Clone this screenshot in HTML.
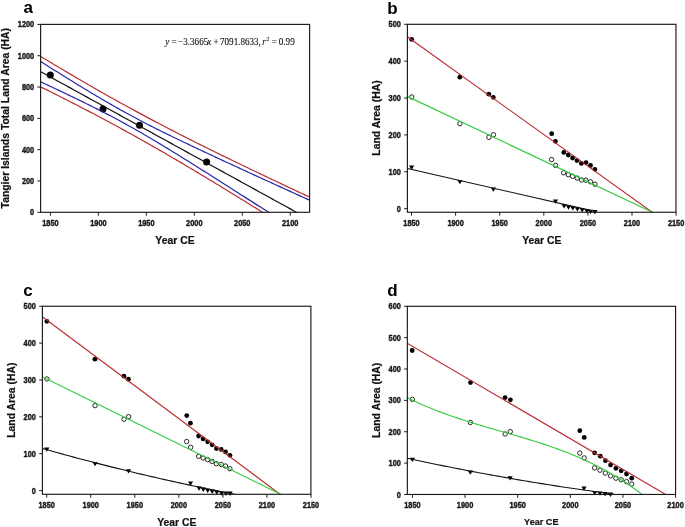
<!DOCTYPE html><html><head><meta charset="utf-8"><style>html,body{margin:0;padding:0;background:#fff;}body{width:685px;height:527px;overflow:hidden;} svg{display:block;will-change:transform;}</style></head><body><svg width="685" height="527" viewBox="0 0 685 527">
<rect width="685" height="527" fill="#fff"/>
<defs><clipPath id="ca"><rect x="40.6" y="24.4" width="269.0" height="187.9"/></clipPath><clipPath id="cb"><rect x="407.4" y="24.3" width="268.55" height="187.95"/></clipPath><clipPath id="cc"><rect x="42.4" y="306.25" width="268.50" height="188.05"/></clipPath><clipPath id="cd"><rect x="407.35" y="306.3" width="268.25" height="188.15"/></clipPath></defs>
<circle cx="50.30" cy="75.10" r="3.5" fill="#000"/>
<circle cx="103.00" cy="108.90" r="3.5" fill="#000"/>
<circle cx="139.50" cy="125.35" r="3.5" fill="#000"/>
<circle cx="206.60" cy="162.10" r="3.5" fill="#000"/>
<g clip-path="url(#ca)">
<polyline points="36.07,53.64 38.40,55.06 40.74,56.48 43.08,57.89 45.41,59.30 47.75,60.70 50.09,62.11 52.42,63.51 54.76,64.91 57.10,66.31 59.44,67.70 61.77,69.09 64.11,70.48 66.45,71.86 68.78,73.24 71.12,74.62 73.46,75.99 75.79,77.36 78.13,78.73 80.47,80.09 82.81,81.45 85.14,82.81 87.48,84.16 89.82,85.51 92.15,86.85 94.49,88.20 96.83,89.53 99.17,90.87 101.50,92.19 103.84,93.52 106.18,94.84 108.51,96.16 110.85,97.47 113.19,98.78 115.53,100.08 117.86,101.38 120.20,102.68 122.54,103.97 124.87,105.26 127.21,106.54 129.55,107.82 131.88,109.09 134.22,110.36 136.56,111.63 138.90,112.89 141.23,114.15 143.57,115.40 145.91,116.65 148.24,117.89 150.58,119.13 152.92,120.37 155.25,121.60 157.59,122.83 159.93,124.05 162.27,125.28 164.60,126.49 166.94,127.71 169.28,128.92 171.61,130.12 173.95,131.32 176.29,132.52 178.63,133.72 180.96,134.91 183.30,136.10 185.64,137.29 187.97,138.47 190.31,139.65 192.65,140.83 194.99,142.00 197.32,143.17 199.66,144.34 202.00,145.50 204.33,146.66 206.67,147.82 209.01,148.98 211.34,150.14 213.68,151.29 216.02,152.44 218.36,153.59 220.69,154.73 223.03,155.88 225.37,157.02 227.70,158.16 230.04,159.29 232.38,160.43 234.71,161.56 237.05,162.69 239.39,163.82 241.73,164.95 244.06,166.08 246.40,167.20 248.74,168.32 251.07,169.44 253.41,170.56 255.75,171.68 258.09,172.80 260.42,173.91 262.76,175.03 265.10,176.14 267.43,177.25 269.77,178.36 272.11,179.47 274.44,180.58 276.78,181.68 279.12,182.79 281.46,183.89 283.79,185.00 286.13,186.10 288.47,187.20 290.80,188.30 293.14,189.40 295.48,190.50 297.82,191.59 300.15,192.69 302.49,193.78 304.83,194.88 307.16,195.97 309.50,197.07 311.84,198.16 314.17,199.25" fill="none" stroke="#ba2c33" stroke-width="1.2" stroke-linejoin="round"/>
<polyline points="36.07,84.62 38.40,85.77 40.74,86.93 43.08,88.09 45.41,89.25 47.75,90.41 50.09,91.57 52.42,92.74 54.76,93.91 57.10,95.08 59.44,96.26 61.77,97.44 64.11,98.62 66.45,99.81 68.78,101.00 71.12,102.19 73.46,103.38 75.79,104.58 78.13,105.78 80.47,106.99 82.81,108.20 85.14,109.41 87.48,110.63 89.82,111.85 92.15,113.07 94.49,114.30 96.83,115.53 99.17,116.77 101.50,118.01 103.84,119.25 106.18,120.50 108.51,121.75 110.85,123.01 113.19,124.27 115.53,125.54 117.86,126.81 120.20,128.08 122.54,129.36 124.87,130.64 127.21,131.93 129.55,133.22 131.88,134.51 134.22,135.81 136.56,137.12 138.90,138.42 141.23,139.73 143.57,141.05 145.91,142.37 148.24,143.70 150.58,145.02 152.92,146.36 155.25,147.69 157.59,149.03 159.93,150.38 162.27,151.73 164.60,153.08 166.94,154.43 169.28,155.79 171.61,157.16 173.95,158.52 176.29,159.89 178.63,161.27 180.96,162.64 183.30,164.02 185.64,165.41 187.97,166.79 190.31,168.18 192.65,169.58 194.99,170.97 197.32,172.37 199.66,173.77 202.00,175.18 204.33,176.58 206.67,177.99 209.01,179.40 211.34,180.82 213.68,182.24 216.02,183.66 218.36,185.08 220.69,186.50 223.03,187.93 225.37,189.35 227.70,190.78 230.04,192.22 232.38,193.65 234.71,195.09 237.05,196.52 239.39,197.96 241.73,199.41 244.06,200.85 246.40,202.29 248.74,203.74 251.07,205.19 253.41,206.64 255.75,208.09 258.09,209.54 260.42,211.00 262.76,212.45 265.10,213.91 267.43,215.37 269.77,216.83 272.11,218.29 274.44,219.75 276.78,221.21 279.12,222.67 281.46,224.14 283.79,225.61 286.13,227.07 288.47,228.54 290.80,230.01 293.14,231.48 295.48,232.95 297.82,234.42 300.15,235.90 302.49,237.37 304.83,238.84 307.16,240.32 309.50,241.80 311.84,243.27 314.17,244.75" fill="none" stroke="#ba2c33" stroke-width="1.2" stroke-linejoin="round"/>
<polyline points="36.07,58.60 38.40,60.08 40.74,61.55 43.08,63.03 45.41,64.51 47.75,65.98 50.09,67.45 52.42,68.92 54.76,70.39 57.10,71.85 59.44,73.32 61.77,74.77 64.11,76.23 66.45,77.68 68.78,79.14 71.12,80.58 73.46,82.03 75.79,83.46 78.13,84.90 80.47,86.33 82.81,87.76 85.14,89.18 87.48,90.59 89.82,92.00 92.15,93.41 94.49,94.81 96.83,96.20 99.17,97.58 101.50,98.96 103.84,100.33 106.18,101.69 108.51,103.05 110.85,104.39 113.19,105.73 115.53,107.06 117.86,108.37 120.20,109.68 122.54,110.98 124.87,112.27 127.21,113.55 129.55,114.82 131.88,116.08 134.22,117.34 136.56,118.58 138.90,119.81 141.23,121.04 143.57,122.25 145.91,123.46 148.24,124.66 150.58,125.85 152.92,127.04 155.25,128.22 157.59,129.39 159.93,130.56 162.27,131.72 164.60,132.87 166.94,134.02 169.28,135.16 171.61,136.30 173.95,137.44 176.29,138.57 178.63,139.69 180.96,140.82 183.30,141.93 185.64,143.05 187.97,144.16 190.31,145.27 192.65,146.38 194.99,147.49 197.32,148.59 199.66,149.69 202.00,150.79 204.33,151.88 206.67,152.98 209.01,154.07 211.34,155.16 213.68,156.25 216.02,157.34 218.36,158.42 220.69,159.51 223.03,160.59 225.37,161.67 227.70,162.75 230.04,163.83 232.38,164.91 234.71,165.99 237.05,167.07 239.39,168.14 241.73,169.22 244.06,170.29 246.40,171.37 248.74,172.44 251.07,173.51 253.41,174.58 255.75,175.65 258.09,176.72 260.42,177.79 262.76,178.86 265.10,179.93 267.43,181.00 269.77,182.07 272.11,183.14 274.44,184.20 276.78,185.27 279.12,186.33 281.46,187.40 283.79,188.46 286.13,189.53 288.47,190.59 290.80,191.66 293.14,192.72 295.48,193.79 297.82,194.85 300.15,195.91 302.49,196.97 304.83,198.04 307.16,199.10 309.50,200.16 311.84,201.22 314.17,202.28" fill="none" stroke="#2626ad" stroke-width="1.2" stroke-linejoin="round"/>
<polyline points="36.07,79.67 38.40,80.76 40.74,81.85 43.08,82.94 45.41,84.04 47.75,85.13 50.09,86.23 52.42,87.33 54.76,88.43 57.10,89.54 59.44,90.64 61.77,91.75 64.11,92.87 66.45,93.98 68.78,95.10 71.12,96.22 73.46,97.35 75.79,98.48 78.13,99.61 80.47,100.75 82.81,101.89 85.14,103.04 87.48,104.20 89.82,105.35 92.15,106.52 94.49,107.69 96.83,108.87 99.17,110.05 101.50,111.24 103.84,112.44 106.18,113.65 108.51,114.87 110.85,116.09 113.19,117.32 115.53,118.56 117.86,119.81 120.20,121.08 122.54,122.34 124.87,123.62 127.21,124.91 129.55,126.21 131.88,127.52 134.22,128.84 136.56,130.16 138.90,131.50 141.23,132.84 143.57,134.20 145.91,135.56 148.24,136.93 150.58,138.30 152.92,139.69 155.25,141.08 157.59,142.47 159.93,143.88 162.27,145.29 164.60,146.70 166.94,148.12 169.28,149.55 171.61,150.98 173.95,152.41 176.29,153.85 178.63,155.29 180.96,156.74 183.30,158.19 185.64,159.64 187.97,161.10 190.31,162.56 192.65,164.02 194.99,165.49 197.32,166.95 199.66,168.42 202.00,169.89 204.33,171.37 206.67,172.84 209.01,174.32 211.34,175.80 213.68,177.28 216.02,178.76 218.36,180.24 220.69,181.73 223.03,183.21 225.37,184.70 227.70,186.19 230.04,187.68 232.38,189.17 234.71,190.66 237.05,192.15 239.39,193.64 241.73,195.14 244.06,196.63 246.40,198.13 248.74,199.62 251.07,201.12 253.41,202.62 255.75,204.12 258.09,205.62 260.42,207.11 262.76,208.61 265.10,210.11 267.43,211.62 269.77,213.12 272.11,214.62 274.44,216.12 276.78,217.62 279.12,219.13 281.46,220.63 283.79,222.14 286.13,223.64 288.47,225.14 290.80,226.65 293.14,228.16 295.48,229.66 297.82,231.17 300.15,232.67 302.49,234.18 304.83,235.69 307.16,237.19 309.50,238.70 311.84,240.21 314.17,241.72" fill="none" stroke="#2626ad" stroke-width="1.2" stroke-linejoin="round"/>
<polyline points="36.07,69.13 38.40,70.42 40.74,71.70 43.08,72.99 45.41,74.27 47.75,75.56 50.09,76.84 52.42,78.13 54.76,79.41 57.10,80.69 59.44,81.98 61.77,83.26 64.11,84.55 66.45,85.83 68.78,87.12 71.12,88.40 73.46,89.69 75.79,90.97 78.13,92.26 80.47,93.54 82.81,94.83 85.14,96.11 87.48,97.39 89.82,98.68 92.15,99.96 94.49,101.25 96.83,102.53 99.17,103.82 101.50,105.10 103.84,106.39 106.18,107.67 108.51,108.96 110.85,110.24 113.19,111.52 115.53,112.81 117.86,114.09 120.20,115.38 122.54,116.66 124.87,117.95 127.21,119.23 129.55,120.52 131.88,121.80 134.22,123.09 136.56,124.37 138.90,125.66 141.23,126.94 143.57,128.22 145.91,129.51 148.24,130.79 150.58,132.08 152.92,133.36 155.25,134.65 157.59,135.93 159.93,137.22 162.27,138.50 164.60,139.79 166.94,141.07 169.28,142.36 171.61,143.64 173.95,144.92 176.29,146.21 178.63,147.49 180.96,148.78 183.30,150.06 185.64,151.35 187.97,152.63 190.31,153.92 192.65,155.20 194.99,156.49 197.32,157.77 199.66,159.05 202.00,160.34 204.33,161.62 206.67,162.91 209.01,164.19 211.34,165.48 213.68,166.76 216.02,168.05 218.36,169.33 220.69,170.62 223.03,171.90 225.37,173.19 227.70,174.47 230.04,175.75 232.38,177.04 234.71,178.32 237.05,179.61 239.39,180.89 241.73,182.18 244.06,183.46 246.40,184.75 248.74,186.03 251.07,187.32 253.41,188.60 255.75,189.89 258.09,191.17 260.42,192.45 262.76,193.74 265.10,195.02 267.43,196.31 269.77,197.59 272.11,198.88 274.44,200.16 276.78,201.45 279.12,202.73 281.46,204.02 283.79,205.30 286.13,206.58 288.47,207.87 290.80,209.15 293.14,210.44 295.48,211.72 297.82,213.01 300.15,214.29 302.49,215.58 304.83,216.86 307.16,218.15 309.50,219.43 311.84,220.72 314.17,222.00" fill="none" stroke="#111" stroke-width="1.2" stroke-linejoin="round"/>
</g>
<rect x="40.60" y="24.40" width="269.00" height="187.90" fill="none" stroke="#1a1a1a" stroke-width="1.15"/>
<line x1="37.40" y1="212.30" x2="40.60" y2="212.30" stroke="#1a1a1a" stroke-width="1"/>
<text transform="translate(34.20,215.37) scale(0.9,1)" text-anchor="end" style="font-family:'Liberation Sans',sans-serif;font-weight:bold;font-size:8.2px" fill="#1a1a1a" stroke="#1a1a1a" stroke-width="0.4">0</text>
<line x1="37.40" y1="180.98" x2="40.60" y2="180.98" stroke="#1a1a1a" stroke-width="1"/>
<text transform="translate(34.20,184.05) scale(0.9,1)" text-anchor="end" style="font-family:'Liberation Sans',sans-serif;font-weight:bold;font-size:8.2px" fill="#1a1a1a" stroke="#1a1a1a" stroke-width="0.4">200</text>
<line x1="37.40" y1="149.67" x2="40.60" y2="149.67" stroke="#1a1a1a" stroke-width="1"/>
<text transform="translate(34.20,152.74) scale(0.9,1)" text-anchor="end" style="font-family:'Liberation Sans',sans-serif;font-weight:bold;font-size:8.2px" fill="#1a1a1a" stroke="#1a1a1a" stroke-width="0.4">400</text>
<line x1="37.40" y1="118.35" x2="40.60" y2="118.35" stroke="#1a1a1a" stroke-width="1"/>
<text transform="translate(34.20,121.42) scale(0.9,1)" text-anchor="end" style="font-family:'Liberation Sans',sans-serif;font-weight:bold;font-size:8.2px" fill="#1a1a1a" stroke="#1a1a1a" stroke-width="0.4">600</text>
<line x1="37.40" y1="87.04" x2="40.60" y2="87.04" stroke="#1a1a1a" stroke-width="1"/>
<text transform="translate(34.20,90.11) scale(0.9,1)" text-anchor="end" style="font-family:'Liberation Sans',sans-serif;font-weight:bold;font-size:8.2px" fill="#1a1a1a" stroke="#1a1a1a" stroke-width="0.4">800</text>
<line x1="37.40" y1="55.72" x2="40.60" y2="55.72" stroke="#1a1a1a" stroke-width="1"/>
<text transform="translate(34.20,58.79) scale(0.9,1)" text-anchor="end" style="font-family:'Liberation Sans',sans-serif;font-weight:bold;font-size:8.2px" fill="#1a1a1a" stroke="#1a1a1a" stroke-width="0.4">1000</text>
<line x1="37.40" y1="24.40" x2="40.60" y2="24.40" stroke="#1a1a1a" stroke-width="1"/>
<text transform="translate(34.20,27.47) scale(0.9,1)" text-anchor="end" style="font-family:'Liberation Sans',sans-serif;font-weight:bold;font-size:8.2px" fill="#1a1a1a" stroke="#1a1a1a" stroke-width="0.4">1200</text>
<line x1="50.45" y1="212.30" x2="50.45" y2="215.70" stroke="#1a1a1a" stroke-width="1"/>
<text transform="translate(50.45,225.60) scale(0.9,1)" text-anchor="middle" style="font-family:'Liberation Sans',sans-serif;font-weight:bold;font-size:8.2px" fill="#1a1a1a" stroke="#1a1a1a" stroke-width="0.4">1850</text>
<line x1="98.40" y1="212.30" x2="98.40" y2="215.70" stroke="#1a1a1a" stroke-width="1"/>
<text transform="translate(98.40,225.60) scale(0.9,1)" text-anchor="middle" style="font-family:'Liberation Sans',sans-serif;font-weight:bold;font-size:8.2px" fill="#1a1a1a" stroke="#1a1a1a" stroke-width="0.4">1900</text>
<line x1="146.35" y1="212.30" x2="146.35" y2="215.70" stroke="#1a1a1a" stroke-width="1"/>
<text transform="translate(146.35,225.60) scale(0.9,1)" text-anchor="middle" style="font-family:'Liberation Sans',sans-serif;font-weight:bold;font-size:8.2px" fill="#1a1a1a" stroke="#1a1a1a" stroke-width="0.4">1950</text>
<line x1="194.30" y1="212.30" x2="194.30" y2="215.70" stroke="#1a1a1a" stroke-width="1"/>
<text transform="translate(194.30,225.60) scale(0.9,1)" text-anchor="middle" style="font-family:'Liberation Sans',sans-serif;font-weight:bold;font-size:8.2px" fill="#1a1a1a" stroke="#1a1a1a" stroke-width="0.4">2000</text>
<line x1="242.25" y1="212.30" x2="242.25" y2="215.70" stroke="#1a1a1a" stroke-width="1"/>
<text transform="translate(242.25,225.60) scale(0.9,1)" text-anchor="middle" style="font-family:'Liberation Sans',sans-serif;font-weight:bold;font-size:8.2px" fill="#1a1a1a" stroke="#1a1a1a" stroke-width="0.4">2050</text>
<line x1="290.20" y1="212.30" x2="290.20" y2="215.70" stroke="#1a1a1a" stroke-width="1"/>
<text transform="translate(290.20,225.60) scale(0.9,1)" text-anchor="middle" style="font-family:'Liberation Sans',sans-serif;font-weight:bold;font-size:8.2px" fill="#1a1a1a" stroke="#1a1a1a" stroke-width="0.4">2100</text>
<text transform="translate(8.90,118.20) rotate(-90)" x="0" y="0" text-anchor="middle" style="font-family:'Liberation Sans',sans-serif;font-weight:bold;font-size:10.4px" fill="#111" stroke="#111" stroke-width="0.2">Tangier Islands Total Land Area (HA)</text>
<text x="175.00" y="243.50" text-anchor="middle" style="font-family:'Liberation Sans',sans-serif;font-weight:bold;font-size:10.4px" fill="#111" stroke="#111" stroke-width="0.2">Year CE</text>
<text x="23.60" y="13.00" style="font-family:'Liberation Sans',sans-serif;font-weight:bold;font-size:17.0px" fill="#000">a</text>
<text transform="translate(165.2,45.4) scale(0.91,1)" style="font-family:'Liberation Serif',serif;font-style:italic;font-size:10.0px" fill="#111" stroke="#111" stroke-width="0.12">y</text>
<text transform="translate(171.6,45.4) scale(0.91,1)" style="font-family:'Liberation Serif',serif;font-size:10.0px" fill="#111" stroke="#111" stroke-width="0.12">=</text>
<text transform="translate(178.1,45.4) scale(0.91,1)" style="font-family:'Liberation Serif',serif;font-size:10.0px" fill="#111" stroke="#111" stroke-width="0.12">−3.3665</text>
<text transform="translate(207.2,45.4) scale(0.91,1)" style="font-family:'Liberation Serif',serif;font-style:italic;font-size:10.0px" fill="#111" stroke="#111" stroke-width="0.12">x</text>
<text transform="translate(213.4,45.4) scale(0.91,1)" style="font-family:'Liberation Serif',serif;font-size:10.0px" fill="#111" stroke="#111" stroke-width="0.12">+</text>
<text transform="translate(220.0,45.4) scale(0.91,1)" style="font-family:'Liberation Serif',serif;font-size:10.0px" fill="#111" stroke="#111" stroke-width="0.12">7091.8633,</text>
<text transform="translate(262.2,45.4) scale(0.91,1)" style="font-family:'Liberation Serif',serif;font-style:italic;font-size:10.0px" fill="#111" stroke="#111" stroke-width="0.12">r</text>
<text transform="translate(266.6,41.4) scale(0.91,1)" style="font-family:'Liberation Serif',serif;font-size:6.4px" fill="#111" stroke="#111" stroke-width="0.12">2</text>
<text transform="translate(271.7,45.4) scale(0.91,1)" style="font-family:'Liberation Serif',serif;font-size:10.0px" fill="#111" stroke="#111" stroke-width="0.12">=</text>
<text transform="translate(278.8,45.4) scale(0.91,1)" style="font-family:'Liberation Serif',serif;font-size:10.0px" fill="#111" stroke="#111" stroke-width="0.12">0.99</text>
<circle cx="411.70" cy="39.40" r="2.4" fill="#000"/>
<circle cx="459.80" cy="77.20" r="2.4" fill="#000"/>
<circle cx="488.80" cy="94.20" r="2.4" fill="#000"/>
<circle cx="493.30" cy="97.30" r="2.4" fill="#000"/>
<circle cx="551.70" cy="133.70" r="2.4" fill="#000"/>
<circle cx="555.40" cy="141.30" r="2.4" fill="#000"/>
<circle cx="563.80" cy="152.40" r="2.4" fill="#000"/>
<circle cx="568.30" cy="155.00" r="2.4" fill="#000"/>
<circle cx="572.60" cy="158.00" r="2.4" fill="#000"/>
<circle cx="577.00" cy="160.60" r="2.4" fill="#000"/>
<circle cx="581.40" cy="163.40" r="2.4" fill="#000"/>
<circle cx="586.00" cy="162.60" r="2.4" fill="#000"/>
<circle cx="590.50" cy="165.50" r="2.4" fill="#000"/>
<circle cx="594.90" cy="169.30" r="2.4" fill="#000"/>
<circle cx="411.70" cy="97.00" r="2.2" fill="none" stroke="#111" stroke-width="0.9"/>
<circle cx="459.90" cy="123.70" r="2.2" fill="none" stroke="#111" stroke-width="0.9"/>
<circle cx="488.90" cy="137.30" r="2.2" fill="none" stroke="#111" stroke-width="0.9"/>
<circle cx="493.50" cy="134.70" r="2.2" fill="none" stroke="#111" stroke-width="0.9"/>
<circle cx="551.60" cy="159.60" r="2.2" fill="none" stroke="#111" stroke-width="0.9"/>
<circle cx="555.60" cy="165.40" r="2.2" fill="none" stroke="#111" stroke-width="0.9"/>
<circle cx="563.60" cy="172.80" r="2.2" fill="none" stroke="#111" stroke-width="0.9"/>
<circle cx="568.30" cy="174.70" r="2.2" fill="none" stroke="#111" stroke-width="0.9"/>
<circle cx="572.60" cy="176.30" r="2.2" fill="none" stroke="#111" stroke-width="0.9"/>
<circle cx="577.20" cy="178.10" r="2.2" fill="none" stroke="#111" stroke-width="0.9"/>
<circle cx="581.60" cy="180.00" r="2.2" fill="none" stroke="#111" stroke-width="0.9"/>
<circle cx="585.90" cy="180.20" r="2.2" fill="none" stroke="#111" stroke-width="0.9"/>
<circle cx="590.50" cy="181.80" r="2.2" fill="none" stroke="#111" stroke-width="0.9"/>
<circle cx="595.00" cy="184.20" r="2.2" fill="none" stroke="#111" stroke-width="0.9"/>
<path d="M409.00,165.60 L414.20,165.60 L411.60,169.90 Z" fill="#000"/>
<path d="M457.30,180.00 L462.50,180.00 L459.90,184.30 Z" fill="#000"/>
<path d="M490.80,187.40 L496.00,187.40 L493.40,191.70 Z" fill="#000"/>
<path d="M552.90,199.50 L558.10,199.50 L555.50,203.80 Z" fill="#000"/>
<path d="M561.50,204.30 L566.70,204.30 L564.10,208.60 Z" fill="#000"/>
<path d="M565.90,205.40 L571.10,205.40 L568.50,209.70 Z" fill="#000"/>
<path d="M570.20,206.30 L575.40,206.30 L572.80,210.60 Z" fill="#000"/>
<path d="M574.80,207.20 L580.00,207.20 L577.40,211.50 Z" fill="#000"/>
<path d="M579.60,208.10 L584.80,208.10 L582.20,212.40 Z" fill="#000"/>
<path d="M584.30,208.90 L589.50,208.90 L586.90,213.20 Z" fill="#000"/>
<path d="M587.90,209.70 L593.10,209.70 L590.50,214.00 Z" fill="#000"/>
<path d="M592.30,210.10 L597.50,210.10 L594.90,214.40 Z" fill="#000"/>
<g clip-path="url(#cb)">
<polyline points="405.50,35.47 655.02,214.25" fill="none" stroke="#ba2c33" stroke-width="1.15" stroke-linejoin="round"/>
<polyline points="405.50,95.55 656.58,214.25" fill="none" stroke="#38cc40" stroke-width="1.15" stroke-linejoin="round"/>
<polyline points="407.50,168.50 597.00,211.90" fill="none" stroke="#111" stroke-width="1.1" stroke-linejoin="round"/>
</g>
<rect x="407.40" y="24.30" width="268.55" height="187.95" fill="none" stroke="#1a1a1a" stroke-width="1.15"/>
<line x1="404.20" y1="208.65" x2="407.40" y2="208.65" stroke="#1a1a1a" stroke-width="1"/>
<text transform="translate(400.90,211.72) scale(0.9,1)" text-anchor="end" style="font-family:'Liberation Sans',sans-serif;font-weight:bold;font-size:8.2px" fill="#1a1a1a" stroke="#1a1a1a" stroke-width="0.4">0</text>
<line x1="404.20" y1="171.78" x2="407.40" y2="171.78" stroke="#1a1a1a" stroke-width="1"/>
<text transform="translate(400.90,174.85) scale(0.9,1)" text-anchor="end" style="font-family:'Liberation Sans',sans-serif;font-weight:bold;font-size:8.2px" fill="#1a1a1a" stroke="#1a1a1a" stroke-width="0.4">100</text>
<line x1="404.20" y1="134.91" x2="407.40" y2="134.91" stroke="#1a1a1a" stroke-width="1"/>
<text transform="translate(400.90,137.98) scale(0.9,1)" text-anchor="end" style="font-family:'Liberation Sans',sans-serif;font-weight:bold;font-size:8.2px" fill="#1a1a1a" stroke="#1a1a1a" stroke-width="0.4">200</text>
<line x1="404.20" y1="98.04" x2="407.40" y2="98.04" stroke="#1a1a1a" stroke-width="1"/>
<text transform="translate(400.90,101.11) scale(0.9,1)" text-anchor="end" style="font-family:'Liberation Sans',sans-serif;font-weight:bold;font-size:8.2px" fill="#1a1a1a" stroke="#1a1a1a" stroke-width="0.4">300</text>
<line x1="404.20" y1="61.17" x2="407.40" y2="61.17" stroke="#1a1a1a" stroke-width="1"/>
<text transform="translate(400.90,64.24) scale(0.9,1)" text-anchor="end" style="font-family:'Liberation Sans',sans-serif;font-weight:bold;font-size:8.2px" fill="#1a1a1a" stroke="#1a1a1a" stroke-width="0.4">400</text>
<line x1="404.20" y1="24.30" x2="407.40" y2="24.30" stroke="#1a1a1a" stroke-width="1"/>
<text transform="translate(400.90,27.37) scale(0.9,1)" text-anchor="end" style="font-family:'Liberation Sans',sans-serif;font-weight:bold;font-size:8.2px" fill="#1a1a1a" stroke="#1a1a1a" stroke-width="0.4">500</text>
<line x1="411.50" y1="212.25" x2="411.50" y2="215.65" stroke="#1a1a1a" stroke-width="1"/>
<text transform="translate(411.50,225.60) scale(0.9,1)" text-anchor="middle" style="font-family:'Liberation Sans',sans-serif;font-weight:bold;font-size:8.2px" fill="#1a1a1a" stroke="#1a1a1a" stroke-width="0.4">1850</text>
<line x1="455.60" y1="212.25" x2="455.60" y2="215.65" stroke="#1a1a1a" stroke-width="1"/>
<text transform="translate(455.60,225.60) scale(0.9,1)" text-anchor="middle" style="font-family:'Liberation Sans',sans-serif;font-weight:bold;font-size:8.2px" fill="#1a1a1a" stroke="#1a1a1a" stroke-width="0.4">1900</text>
<line x1="499.70" y1="212.25" x2="499.70" y2="215.65" stroke="#1a1a1a" stroke-width="1"/>
<text transform="translate(499.70,225.60) scale(0.9,1)" text-anchor="middle" style="font-family:'Liberation Sans',sans-serif;font-weight:bold;font-size:8.2px" fill="#1a1a1a" stroke="#1a1a1a" stroke-width="0.4">1950</text>
<line x1="543.80" y1="212.25" x2="543.80" y2="215.65" stroke="#1a1a1a" stroke-width="1"/>
<text transform="translate(543.80,225.60) scale(0.9,1)" text-anchor="middle" style="font-family:'Liberation Sans',sans-serif;font-weight:bold;font-size:8.2px" fill="#1a1a1a" stroke="#1a1a1a" stroke-width="0.4">2000</text>
<line x1="587.90" y1="212.25" x2="587.90" y2="215.65" stroke="#1a1a1a" stroke-width="1"/>
<text transform="translate(587.90,225.60) scale(0.9,1)" text-anchor="middle" style="font-family:'Liberation Sans',sans-serif;font-weight:bold;font-size:8.2px" fill="#1a1a1a" stroke="#1a1a1a" stroke-width="0.4">2050</text>
<line x1="632.00" y1="212.25" x2="632.00" y2="215.65" stroke="#1a1a1a" stroke-width="1"/>
<text transform="translate(632.00,225.60) scale(0.9,1)" text-anchor="middle" style="font-family:'Liberation Sans',sans-serif;font-weight:bold;font-size:8.2px" fill="#1a1a1a" stroke="#1a1a1a" stroke-width="0.4">2100</text>
<line x1="676.10" y1="212.25" x2="676.10" y2="215.65" stroke="#1a1a1a" stroke-width="1"/>
<text transform="translate(676.10,225.60) scale(0.9,1)" text-anchor="middle" style="font-family:'Liberation Sans',sans-serif;font-weight:bold;font-size:8.2px" fill="#1a1a1a" stroke="#1a1a1a" stroke-width="0.4">2150</text>
<text transform="translate(379.90,118.00) rotate(-90)" x="0" y="0" text-anchor="middle" style="font-family:'Liberation Sans',sans-serif;font-weight:bold;font-size:10.4px" fill="#111" stroke="#111" stroke-width="0.2">Land Area (HA)</text>
<text x="541.80" y="243.50" text-anchor="middle" style="font-family:'Liberation Sans',sans-serif;font-weight:bold;font-size:10.4px" fill="#111" stroke="#111" stroke-width="0.2">Year CE</text>
<text x="387.30" y="13.90" style="font-family:'Liberation Sans',sans-serif;font-weight:bold;font-size:17.0px" fill="#000">b</text>
<circle cx="46.90" cy="321.35" r="2.4" fill="#000"/>
<circle cx="94.95" cy="359.14" r="2.4" fill="#000"/>
<circle cx="123.91" cy="376.13" r="2.4" fill="#000"/>
<circle cx="128.41" cy="379.23" r="2.4" fill="#000"/>
<circle cx="186.74" cy="415.62" r="2.4" fill="#000"/>
<circle cx="190.44" cy="423.22" r="2.4" fill="#000"/>
<circle cx="198.60" cy="436.00" r="2.4" fill="#000"/>
<circle cx="203.10" cy="438.90" r="2.4" fill="#000"/>
<circle cx="207.60" cy="441.80" r="2.4" fill="#000"/>
<circle cx="212.10" cy="444.80" r="2.4" fill="#000"/>
<circle cx="216.40" cy="448.50" r="2.4" fill="#000"/>
<circle cx="221.20" cy="449.40" r="2.4" fill="#000"/>
<circle cx="225.50" cy="451.90" r="2.4" fill="#000"/>
<circle cx="229.90" cy="455.30" r="2.4" fill="#000"/>
<circle cx="46.90" cy="378.93" r="2.2" fill="none" stroke="#111" stroke-width="0.9"/>
<circle cx="95.05" cy="405.62" r="2.2" fill="none" stroke="#111" stroke-width="0.9"/>
<circle cx="124.01" cy="419.22" r="2.2" fill="none" stroke="#111" stroke-width="0.9"/>
<circle cx="128.61" cy="416.62" r="2.2" fill="none" stroke="#111" stroke-width="0.9"/>
<circle cx="186.64" cy="441.51" r="2.2" fill="none" stroke="#111" stroke-width="0.9"/>
<circle cx="190.64" cy="447.31" r="2.2" fill="none" stroke="#111" stroke-width="0.9"/>
<circle cx="198.60" cy="456.30" r="2.2" fill="none" stroke="#111" stroke-width="0.9"/>
<circle cx="203.10" cy="458.00" r="2.2" fill="none" stroke="#111" stroke-width="0.9"/>
<circle cx="207.60" cy="459.60" r="2.2" fill="none" stroke="#111" stroke-width="0.9"/>
<circle cx="212.10" cy="461.40" r="2.2" fill="none" stroke="#111" stroke-width="0.9"/>
<circle cx="216.40" cy="463.70" r="2.2" fill="none" stroke="#111" stroke-width="0.9"/>
<circle cx="221.20" cy="464.50" r="2.2" fill="none" stroke="#111" stroke-width="0.9"/>
<circle cx="225.50" cy="466.00" r="2.2" fill="none" stroke="#111" stroke-width="0.9"/>
<circle cx="229.90" cy="468.70" r="2.2" fill="none" stroke="#111" stroke-width="0.9"/>
<path d="M44.20,447.51 L49.40,447.51 L46.80,451.81 Z" fill="#000"/>
<path d="M92.45,461.91 L97.65,461.91 L95.05,466.21 Z" fill="#000"/>
<path d="M125.91,469.31 L131.11,469.31 L128.51,473.61 Z" fill="#000"/>
<path d="M187.94,481.40 L193.14,481.40 L190.54,485.70 Z" fill="#000"/>
<path d="M196.50,486.50 L201.70,486.50 L199.10,490.80 Z" fill="#000"/>
<path d="M200.70,487.60 L205.90,487.60 L203.30,491.90 Z" fill="#000"/>
<path d="M205.10,488.80 L210.30,488.80 L207.70,493.10 Z" fill="#000"/>
<path d="M209.60,489.60 L214.80,489.60 L212.20,493.90 Z" fill="#000"/>
<path d="M214.20,490.50 L219.40,490.50 L216.80,494.80 Z" fill="#000"/>
<path d="M219.00,491.40 L224.20,491.40 L221.60,495.70 Z" fill="#000"/>
<path d="M223.30,491.60 L228.50,491.60 L225.90,495.90 Z" fill="#000"/>
<path d="M227.50,491.60 L232.70,491.60 L230.10,495.90 Z" fill="#000"/>
<g clip-path="url(#cc)">
<polyline points="40.60,315.51 282.75,496.30" fill="none" stroke="#ba2c33" stroke-width="1.15" stroke-linejoin="round"/>
<polyline points="40.60,375.91 284.76,496.30" fill="none" stroke="#38cc40" stroke-width="1.15" stroke-linejoin="round"/>
<polyline points="42.00,448.36 45.96,449.48 49.92,450.59 53.88,451.69 57.84,452.79 61.80,453.88 65.76,454.96 69.71,456.03 73.67,457.10 77.63,458.16 81.59,459.21 85.55,460.26 89.51,461.30 93.47,462.33 97.43,463.35 101.39,464.37 105.35,465.37 109.31,466.38 113.27,467.37 117.22,468.36 121.18,469.34 125.14,470.31 129.10,471.27 133.06,472.23 137.02,473.18 140.98,474.12 144.94,475.06 148.90,475.99 152.86,476.91 156.82,477.82 160.78,478.73 164.73,479.63 168.69,480.52 172.65,481.40 176.61,482.28 180.57,483.15 184.53,484.01 188.49,484.87 192.45,485.72 196.41,486.56 200.37,487.39 204.33,488.22 208.29,489.04 212.24,489.85 216.20,490.65 220.16,491.45 224.12,492.24 228.08,493.02 232.04,493.80 236.00,494.56" fill="none" stroke="#111" stroke-width="1.1" stroke-linejoin="round"/>
</g>
<rect x="42.40" y="306.25" width="268.50" height="188.05" fill="none" stroke="#1a1a1a" stroke-width="1.15"/>
<line x1="39.20" y1="490.55" x2="42.40" y2="490.55" stroke="#1a1a1a" stroke-width="1"/>
<text transform="translate(35.90,493.62) scale(0.9,1)" text-anchor="end" style="font-family:'Liberation Sans',sans-serif;font-weight:bold;font-size:8.2px" fill="#1a1a1a" stroke="#1a1a1a" stroke-width="0.4">0</text>
<line x1="39.20" y1="453.69" x2="42.40" y2="453.69" stroke="#1a1a1a" stroke-width="1"/>
<text transform="translate(35.90,456.76) scale(0.9,1)" text-anchor="end" style="font-family:'Liberation Sans',sans-serif;font-weight:bold;font-size:8.2px" fill="#1a1a1a" stroke="#1a1a1a" stroke-width="0.4">100</text>
<line x1="39.20" y1="416.83" x2="42.40" y2="416.83" stroke="#1a1a1a" stroke-width="1"/>
<text transform="translate(35.90,419.90) scale(0.9,1)" text-anchor="end" style="font-family:'Liberation Sans',sans-serif;font-weight:bold;font-size:8.2px" fill="#1a1a1a" stroke="#1a1a1a" stroke-width="0.4">200</text>
<line x1="39.20" y1="379.97" x2="42.40" y2="379.97" stroke="#1a1a1a" stroke-width="1"/>
<text transform="translate(35.90,383.04) scale(0.9,1)" text-anchor="end" style="font-family:'Liberation Sans',sans-serif;font-weight:bold;font-size:8.2px" fill="#1a1a1a" stroke="#1a1a1a" stroke-width="0.4">300</text>
<line x1="39.20" y1="343.11" x2="42.40" y2="343.11" stroke="#1a1a1a" stroke-width="1"/>
<text transform="translate(35.90,346.18) scale(0.9,1)" text-anchor="end" style="font-family:'Liberation Sans',sans-serif;font-weight:bold;font-size:8.2px" fill="#1a1a1a" stroke="#1a1a1a" stroke-width="0.4">400</text>
<line x1="39.20" y1="306.25" x2="42.40" y2="306.25" stroke="#1a1a1a" stroke-width="1"/>
<text transform="translate(35.90,309.32) scale(0.9,1)" text-anchor="end" style="font-family:'Liberation Sans',sans-serif;font-weight:bold;font-size:8.2px" fill="#1a1a1a" stroke="#1a1a1a" stroke-width="0.4">500</text>
<line x1="46.70" y1="494.30" x2="46.70" y2="497.70" stroke="#1a1a1a" stroke-width="1"/>
<text transform="translate(46.70,507.60) scale(0.9,1)" text-anchor="middle" style="font-family:'Liberation Sans',sans-serif;font-weight:bold;font-size:8.2px" fill="#1a1a1a" stroke="#1a1a1a" stroke-width="0.4">1850</text>
<line x1="90.75" y1="494.30" x2="90.75" y2="497.70" stroke="#1a1a1a" stroke-width="1"/>
<text transform="translate(90.75,507.60) scale(0.9,1)" text-anchor="middle" style="font-family:'Liberation Sans',sans-serif;font-weight:bold;font-size:8.2px" fill="#1a1a1a" stroke="#1a1a1a" stroke-width="0.4">1900</text>
<line x1="134.80" y1="494.30" x2="134.80" y2="497.70" stroke="#1a1a1a" stroke-width="1"/>
<text transform="translate(134.80,507.60) scale(0.9,1)" text-anchor="middle" style="font-family:'Liberation Sans',sans-serif;font-weight:bold;font-size:8.2px" fill="#1a1a1a" stroke="#1a1a1a" stroke-width="0.4">1950</text>
<line x1="178.85" y1="494.30" x2="178.85" y2="497.70" stroke="#1a1a1a" stroke-width="1"/>
<text transform="translate(178.85,507.60) scale(0.9,1)" text-anchor="middle" style="font-family:'Liberation Sans',sans-serif;font-weight:bold;font-size:8.2px" fill="#1a1a1a" stroke="#1a1a1a" stroke-width="0.4">2000</text>
<line x1="222.90" y1="494.30" x2="222.90" y2="497.70" stroke="#1a1a1a" stroke-width="1"/>
<text transform="translate(222.90,507.60) scale(0.9,1)" text-anchor="middle" style="font-family:'Liberation Sans',sans-serif;font-weight:bold;font-size:8.2px" fill="#1a1a1a" stroke="#1a1a1a" stroke-width="0.4">2050</text>
<line x1="266.95" y1="494.30" x2="266.95" y2="497.70" stroke="#1a1a1a" stroke-width="1"/>
<text transform="translate(266.95,507.60) scale(0.9,1)" text-anchor="middle" style="font-family:'Liberation Sans',sans-serif;font-weight:bold;font-size:8.2px" fill="#1a1a1a" stroke="#1a1a1a" stroke-width="0.4">2100</text>
<line x1="311.00" y1="494.30" x2="311.00" y2="497.70" stroke="#1a1a1a" stroke-width="1"/>
<text transform="translate(311.00,507.60) scale(0.9,1)" text-anchor="middle" style="font-family:'Liberation Sans',sans-serif;font-weight:bold;font-size:8.2px" fill="#1a1a1a" stroke="#1a1a1a" stroke-width="0.4">2150</text>
<text transform="translate(15.10,400.20) rotate(-90)" x="0" y="0" text-anchor="middle" style="font-family:'Liberation Sans',sans-serif;font-weight:bold;font-size:10.4px" fill="#111" stroke="#111" stroke-width="0.2">Land Area (HA)</text>
<text x="176.80" y="525.80" text-anchor="middle" style="font-family:'Liberation Sans',sans-serif;font-weight:bold;font-size:10.4px" fill="#111" stroke="#111" stroke-width="0.2">Year CE</text>
<text x="23.20" y="295.70" style="font-family:'Liberation Sans',sans-serif;font-weight:bold;font-size:17.0px" fill="#000">c</text>
<circle cx="412.20" cy="350.50" r="2.4" fill="#000"/>
<circle cx="470.50" cy="382.60" r="2.4" fill="#000"/>
<circle cx="505.10" cy="397.60" r="2.4" fill="#000"/>
<circle cx="510.40" cy="399.80" r="2.4" fill="#000"/>
<circle cx="579.80" cy="430.70" r="2.4" fill="#000"/>
<circle cx="584.20" cy="437.40" r="2.4" fill="#000"/>
<circle cx="594.60" cy="452.80" r="2.4" fill="#000"/>
<circle cx="600.30" cy="456.20" r="2.4" fill="#000"/>
<circle cx="605.50" cy="460.70" r="2.4" fill="#000"/>
<circle cx="610.60" cy="464.90" r="2.4" fill="#000"/>
<circle cx="615.90" cy="468.30" r="2.4" fill="#000"/>
<circle cx="621.20" cy="470.80" r="2.4" fill="#000"/>
<circle cx="626.50" cy="474.00" r="2.4" fill="#000"/>
<circle cx="631.70" cy="478.20" r="2.4" fill="#000"/>
<circle cx="412.40" cy="399.30" r="2.2" fill="none" stroke="#111" stroke-width="0.9"/>
<circle cx="470.40" cy="422.50" r="2.2" fill="none" stroke="#111" stroke-width="0.9"/>
<circle cx="505.10" cy="434.00" r="2.2" fill="none" stroke="#111" stroke-width="0.9"/>
<circle cx="510.30" cy="431.60" r="2.2" fill="none" stroke="#111" stroke-width="0.9"/>
<circle cx="579.80" cy="453.10" r="2.2" fill="none" stroke="#111" stroke-width="0.9"/>
<circle cx="584.20" cy="457.90" r="2.2" fill="none" stroke="#111" stroke-width="0.9"/>
<circle cx="594.60" cy="467.90" r="2.2" fill="none" stroke="#111" stroke-width="0.9"/>
<circle cx="600.00" cy="470.20" r="2.2" fill="none" stroke="#111" stroke-width="0.9"/>
<circle cx="605.30" cy="473.10" r="2.2" fill="none" stroke="#111" stroke-width="0.9"/>
<circle cx="610.60" cy="475.90" r="2.2" fill="none" stroke="#111" stroke-width="0.9"/>
<circle cx="615.90" cy="478.20" r="2.2" fill="none" stroke="#111" stroke-width="0.9"/>
<circle cx="621.20" cy="479.70" r="2.2" fill="none" stroke="#111" stroke-width="0.9"/>
<circle cx="626.50" cy="481.60" r="2.2" fill="none" stroke="#111" stroke-width="0.9"/>
<circle cx="631.70" cy="484.10" r="2.2" fill="none" stroke="#111" stroke-width="0.9"/>
<path d="M409.80,457.70 L415.00,457.70 L412.40,462.00 Z" fill="#000"/>
<path d="M467.70,470.50 L472.90,470.50 L470.30,474.80 Z" fill="#000"/>
<path d="M507.50,476.30 L512.70,476.30 L510.10,480.60 Z" fill="#000"/>
<path d="M581.40,486.60 L586.60,486.60 L584.00,490.90 Z" fill="#000"/>
<path d="M592.10,490.90 L597.30,490.90 L594.70,495.20 Z" fill="#000"/>
<path d="M597.40,491.50 L602.60,491.50 L600.00,495.80 Z" fill="#000"/>
<path d="M602.50,492.10 L607.70,492.10 L605.10,496.40 Z" fill="#000"/>
<path d="M607.90,492.60 L613.10,492.60 L610.50,496.90 Z" fill="#000"/>
<g clip-path="url(#cd)">
<polyline points="405.50,342.33 669.05,496.45" fill="none" stroke="#ba2c33" stroke-width="1.15" stroke-linejoin="round"/>
<polyline points="406.00,397.00 409.03,398.52 412.05,399.99 415.08,401.42 418.10,402.82 421.13,404.18 424.15,405.50 427.18,406.79 430.20,408.05 433.23,409.27 436.25,410.46 439.28,411.63 442.30,412.77 445.33,413.88 448.35,414.96 451.38,416.03 454.41,417.07 457.43,418.09 460.46,419.09 463.48,420.07 466.51,421.04 469.53,421.99 472.56,422.93 475.58,423.85 478.61,424.76 481.63,425.66 484.66,426.56 487.68,427.44 490.71,428.33 493.73,429.20 496.76,430.07 499.78,430.94 502.81,431.81 505.84,432.68 508.86,433.56 511.89,434.43 514.91,435.31 517.94,436.20 520.96,437.09 523.99,438.00 527.01,438.91 530.04,439.83 533.06,440.77 536.09,441.72 539.11,442.69 542.14,443.67 545.16,444.67 548.19,445.69 551.22,446.74 554.24,447.80 557.27,448.89 560.29,450.00 563.32,451.14 566.34,452.31 569.37,453.50 572.39,454.73 575.42,455.98 578.44,457.28 581.47,458.60 584.49,459.96 587.52,461.36 590.54,462.79 593.57,464.27 596.59,465.78 599.62,467.34 602.65,468.94 605.67,470.59 608.70,472.28 611.72,474.02 614.75,475.82 617.77,477.66 620.80,479.55 623.82,481.49 626.85,483.49 629.87,485.55 632.90,487.66 635.92,489.83 638.95,492.06 641.97,494.36 645.00,496.71" fill="none" stroke="#38cc40" stroke-width="1.15" stroke-linejoin="round"/>
<polyline points="406.00,458.03 409.53,458.79 413.05,459.55 416.58,460.30 420.10,461.04 423.63,461.78 427.15,462.52 430.68,463.25 434.20,463.97 437.73,464.69 441.25,465.40 444.78,466.11 448.31,466.82 451.83,467.52 455.36,468.21 458.88,468.90 462.41,469.58 465.93,470.26 469.46,470.94 472.98,471.60 476.51,472.27 480.03,472.93 483.56,473.58 487.08,474.23 490.61,474.87 494.14,475.51 497.66,476.14 501.19,476.77 504.71,477.39 508.24,478.01 511.76,478.63 515.29,479.23 518.81,479.84 522.34,480.43 525.86,481.03 529.39,481.61 532.92,482.20 536.44,482.77 539.97,483.35 543.49,483.91 547.02,484.48 550.54,485.03 554.07,485.59 557.59,486.13 561.12,486.68 564.64,487.21 568.17,487.74 571.69,488.27 575.22,488.79 578.75,489.31 582.27,489.82 585.80,490.33 589.32,490.83 592.85,491.33 596.37,491.82 599.90,492.30 603.42,492.78 606.95,493.26 610.47,493.73 614.00,494.20" fill="none" stroke="#111" stroke-width="1.1" stroke-linejoin="round"/>
</g>
<rect x="407.35" y="306.30" width="268.25" height="188.15" fill="none" stroke="#1a1a1a" stroke-width="1.15"/>
<line x1="404.15" y1="494.45" x2="407.35" y2="494.45" stroke="#1a1a1a" stroke-width="1"/>
<text transform="translate(400.90,497.52) scale(0.9,1)" text-anchor="end" style="font-family:'Liberation Sans',sans-serif;font-weight:bold;font-size:8.2px" fill="#1a1a1a" stroke="#1a1a1a" stroke-width="0.4">0</text>
<line x1="404.15" y1="463.09" x2="407.35" y2="463.09" stroke="#1a1a1a" stroke-width="1"/>
<text transform="translate(400.90,466.16) scale(0.9,1)" text-anchor="end" style="font-family:'Liberation Sans',sans-serif;font-weight:bold;font-size:8.2px" fill="#1a1a1a" stroke="#1a1a1a" stroke-width="0.4">100</text>
<line x1="404.15" y1="431.73" x2="407.35" y2="431.73" stroke="#1a1a1a" stroke-width="1"/>
<text transform="translate(400.90,434.80) scale(0.9,1)" text-anchor="end" style="font-family:'Liberation Sans',sans-serif;font-weight:bold;font-size:8.2px" fill="#1a1a1a" stroke="#1a1a1a" stroke-width="0.4">200</text>
<line x1="404.15" y1="400.38" x2="407.35" y2="400.38" stroke="#1a1a1a" stroke-width="1"/>
<text transform="translate(400.90,403.45) scale(0.9,1)" text-anchor="end" style="font-family:'Liberation Sans',sans-serif;font-weight:bold;font-size:8.2px" fill="#1a1a1a" stroke="#1a1a1a" stroke-width="0.4">300</text>
<line x1="404.15" y1="369.02" x2="407.35" y2="369.02" stroke="#1a1a1a" stroke-width="1"/>
<text transform="translate(400.90,372.09) scale(0.9,1)" text-anchor="end" style="font-family:'Liberation Sans',sans-serif;font-weight:bold;font-size:8.2px" fill="#1a1a1a" stroke="#1a1a1a" stroke-width="0.4">400</text>
<line x1="404.15" y1="337.66" x2="407.35" y2="337.66" stroke="#1a1a1a" stroke-width="1"/>
<text transform="translate(400.90,340.73) scale(0.9,1)" text-anchor="end" style="font-family:'Liberation Sans',sans-serif;font-weight:bold;font-size:8.2px" fill="#1a1a1a" stroke="#1a1a1a" stroke-width="0.4">500</text>
<line x1="404.15" y1="306.30" x2="407.35" y2="306.30" stroke="#1a1a1a" stroke-width="1"/>
<text transform="translate(400.90,309.37) scale(0.9,1)" text-anchor="end" style="font-family:'Liberation Sans',sans-serif;font-weight:bold;font-size:8.2px" fill="#1a1a1a" stroke="#1a1a1a" stroke-width="0.4">600</text>
<line x1="412.45" y1="494.45" x2="412.45" y2="497.85" stroke="#1a1a1a" stroke-width="1"/>
<text transform="translate(412.45,508.00) scale(0.9,1)" text-anchor="middle" style="font-family:'Liberation Sans',sans-serif;font-weight:bold;font-size:8.2px" fill="#1a1a1a" stroke="#1a1a1a" stroke-width="0.4">1850</text>
<line x1="465.07" y1="494.45" x2="465.07" y2="497.85" stroke="#1a1a1a" stroke-width="1"/>
<text transform="translate(465.07,508.00) scale(0.9,1)" text-anchor="middle" style="font-family:'Liberation Sans',sans-serif;font-weight:bold;font-size:8.2px" fill="#1a1a1a" stroke="#1a1a1a" stroke-width="0.4">1900</text>
<line x1="517.69" y1="494.45" x2="517.69" y2="497.85" stroke="#1a1a1a" stroke-width="1"/>
<text transform="translate(517.69,508.00) scale(0.9,1)" text-anchor="middle" style="font-family:'Liberation Sans',sans-serif;font-weight:bold;font-size:8.2px" fill="#1a1a1a" stroke="#1a1a1a" stroke-width="0.4">1950</text>
<line x1="570.31" y1="494.45" x2="570.31" y2="497.85" stroke="#1a1a1a" stroke-width="1"/>
<text transform="translate(570.31,508.00) scale(0.9,1)" text-anchor="middle" style="font-family:'Liberation Sans',sans-serif;font-weight:bold;font-size:8.2px" fill="#1a1a1a" stroke="#1a1a1a" stroke-width="0.4">2000</text>
<line x1="622.93" y1="494.45" x2="622.93" y2="497.85" stroke="#1a1a1a" stroke-width="1"/>
<text transform="translate(622.93,508.00) scale(0.9,1)" text-anchor="middle" style="font-family:'Liberation Sans',sans-serif;font-weight:bold;font-size:8.2px" fill="#1a1a1a" stroke="#1a1a1a" stroke-width="0.4">2050</text>
<line x1="675.55" y1="494.45" x2="675.55" y2="497.85" stroke="#1a1a1a" stroke-width="1"/>
<text transform="translate(675.55,508.00) scale(0.9,1)" text-anchor="middle" style="font-family:'Liberation Sans',sans-serif;font-weight:bold;font-size:8.2px" fill="#1a1a1a" stroke="#1a1a1a" stroke-width="0.4">2100</text>
<text transform="translate(379.90,400.30) rotate(-90)" x="0" y="0" text-anchor="middle" style="font-family:'Liberation Sans',sans-serif;font-weight:bold;font-size:10.4px" fill="#111" stroke="#111" stroke-width="0.2">Land Area (HA)</text>
<text x="541.30" y="524.90" text-anchor="middle" style="font-family:'Liberation Sans',sans-serif;font-weight:bold;font-size:9.1px" fill="#111" stroke="#111" stroke-width="0.2">Year CE</text>
<text x="387.30" y="295.50" style="font-family:'Liberation Sans',sans-serif;font-weight:bold;font-size:17.0px" fill="#000">d</text>
</svg></body></html>
